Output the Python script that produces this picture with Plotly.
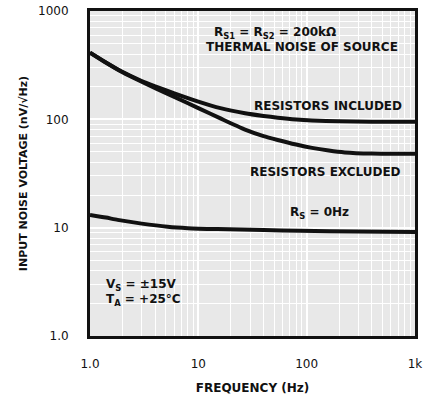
import plotly.graph_objects as go

freq_incl = [1, 1.4, 2, 3, 4, 6, 10, 16, 27, 40, 54, 80, 112, 200, 400, 1000]
noise_incl = [413, 335, 273, 226, 202, 174, 146, 127, 114, 107.5, 103.5, 99.5, 97.5, 95.8, 95, 95]

freq_excl = [1, 1.4, 2, 3, 4, 6, 10, 16, 27, 40, 54, 80, 112, 160, 225, 400, 1000]
noise_excl = [413, 335, 272, 222, 194, 161, 127, 102, 80.5, 70, 64.5, 58.5, 54.5, 51.5, 49.5, 48.3, 48]

freq_rs0 = [1, 1.4, 1.8, 3, 5.2, 8, 15, 40, 87, 300, 1000]
noise_rs0 = [13.1, 12.4, 11.8, 10.9, 10.2, 9.9, 9.7, 9.5, 9.35, 9.2, 9.1]

x_tickvals = [1, 10, 100, 1000]
x_ticktext = ["1.0", "10", "100", "1k"]
y_tickvals = [1, 10, 100, 1000]
y_ticktext = ["1.0", "10", "100", "1000"]

FONT = "DejaVu Sans, Arial, sans-serif"

fig = go.Figure()
for fx, fy in [(freq_incl, noise_incl), (freq_excl, noise_excl), (freq_rs0, noise_rs0)]:
    fig.add_trace(go.Scatter(x=fx, y=fy, mode="lines",
                             line=dict(color="#111111", width=4, shape="spline", smoothing=0.6),
                             showlegend=False, hoverinfo="skip"))

ann_font = dict(family=FONT, size=12, color="#111111")
annots = [
    dict(x=1.708, y=2.80, text="<b>R<sub>S1</sub> = R<sub>S2</sub> = 200kΩ</b>", xanchor="center"),
    dict(x=1.957, y=2.668, text="<b>THERMAL NOISE OF SOURCE</b>", xanchor="center"),
    dict(x=2.90, y=2.124, text="<b>RESISTORS INCLUDED</b>", xanchor="right"),
    dict(x=2.89, y=1.514, text="<b>RESISTORS EXCLUDED</b>", xanchor="right"),
    dict(x=2.115, y=1.136, text="<b>R<sub>S</sub> = 0Hz</b>", xanchor="center"),
    dict(x=0.129, y=0.471, text="<b>V<sub>S</sub> = ±15V</b>", xanchor="left"),
    dict(x=0.129, y=0.332, text="<b>T<sub>A</sub> = +25°C</b>", xanchor="left"),
]
for a in annots:
    fig.add_annotation(x=a["x"], y=a["y"], text=a["text"], xanchor=a["xanchor"], yanchor="middle",
                       showarrow=False, font=ann_font, xref="x", yref="y")

axis_common = dict(
    type="log", automargin=False, ticklabeloverflow="allow",
    showgrid=True, gridcolor="white", gridwidth=2,
    minor=dict(showgrid=True, gridcolor="white", gridwidth=1, dtick="D1"),
    showline=True, linecolor="#111111", linewidth=3, mirror=True,
    ticks="", tickfont=dict(family=FONT, size=12, color="#111111"),
    zeroline=False,
)

fig.update_xaxes(**axis_common, range=[0, 3], tickvals=x_tickvals, ticktext=x_ticktext,
                 ticklabelstandoff=15,
                 title=dict(text="<b>FREQUENCY (Hz)</b>", font=dict(family=FONT, size=12, color="#111111"), standoff=14))
fig.update_yaxes(**axis_common, range=[0, 3], tickvals=y_tickvals, ticktext=y_ticktext,
                 ticklabelstandoff=16,
                 title=dict(text="<b>INPUT NOISE VOLTAGE (nV/√Hz)</b>", font=dict(family=FONT, size=11, color="#111111"), standoff=9))

fig.update_layout(
    width=438, height=400,
    margin=dict(l=90, r=23, t=11, b=64),
    plot_bgcolor="#e8e8e8", paper_bgcolor="white",
)

# remove the default 8px page margin so the 438x400 figure fills the window exactly
fig.write_html("out.html", config={"displayModeBar": False},
               post_script="document.body.style.margin='0';")
